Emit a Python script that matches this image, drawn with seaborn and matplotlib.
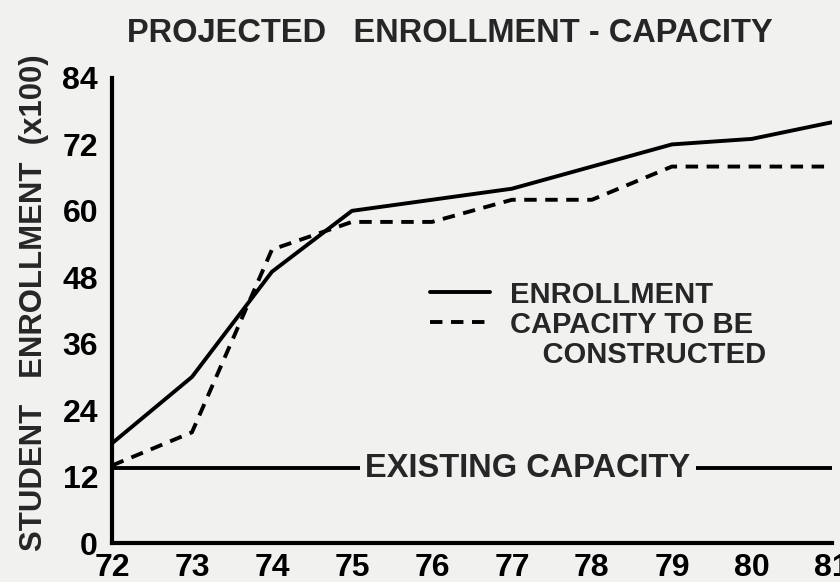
import matplotlib
matplotlib.use("Agg")
import matplotlib.pyplot as plt
from matplotlib.lines import Line2D
import seaborn as sns
import pandas as pd

# values (enrollment in hundreds)
years = [72, 73, 74, 75, 76, 77, 78, 79, 80, 81]
enrollment = [18, 30, 49, 60, 62, 64, 68, 72, 73, 76]
capacity_built = [14, 20, 53, 58, 58, 62, 62, 68, 68, 68]
existing_capacity = [13.5] * len(years)
y_ticks = [0, 12, 24, 36, 48, 60, 72, 84]

bg = "#f1f1ef"
sns.set_theme(style="white", rc={"axes.facecolor": bg, "figure.facecolor": bg})
plt.rcParams["font.family"] = ["Liberation Sans", "DejaVu Sans"]
plt.rcParams["font.weight"] = "bold"

df = pd.DataFrame({
    "Year": years * 3,
    "Value": enrollment + capacity_built + existing_capacity,
    "Series": ["ENROLLMENT"] * len(years) + ["CAPACITY TO BE"] * len(years)
              + ["EXISTING"] * len(years),
})

fig = plt.figure(figsize=(8.4, 5.82), dpi=100)
ax = fig.add_axes([0.1333, 0.067, 0.857, 0.799])

sns.lineplot(data=df, x="Year", y="Value", hue="Series", style="Series",
             hue_order=["ENROLLMENT", "CAPACITY TO BE", "EXISTING"],
             palette=["black", "black", "black"],
             dashes={"ENROLLMENT": "", "CAPACITY TO BE": (3.2, 2.2), "EXISTING": ""},
             linewidth=2.8, ax=ax, legend=True)

ax.text(77.2, 13.5, "EXISTING CAPACITY", ha="center", va="center", fontsize=23.5,
        fontweight="bold", bbox=dict(facecolor=bg, edgecolor="none", pad=4))

# legend: the second label wraps onto a line that has no handle
handles, labels = ax.get_legend_handles_labels()
blank = Line2D([], [], linestyle="none")
leg = ax.legend(handles[:2] + [blank], labels[:2] + ["    CONSTRUCTED"], loc="upper left",
                bbox_to_anchor=(0.512, 0.518), bbox_transform=fig.transFigure,
                frameon=False, fontsize=21, handlelength=2.05, handletextpad=0.7,
                labelspacing=0.07, borderpad=0, borderaxespad=0)

ax.set_xlim(72, 81)
ax.set_ylim(0, 84)
ax.set_xticks(years)
ax.set_yticks(y_ticks)
ax.tick_params(axis="both", labelsize=23, length=5, width=2.5, color="black",
               labelcolor="black", direction="out")
ax.tick_params(axis="y", pad=5)
ax.tick_params(axis="x", pad=2)
for side in ["top", "right"]:
    ax.spines[side].set_visible(False)
for side in ["left", "bottom"]:
    ax.spines[side].set_color("black")
    ax.spines[side].set_linewidth(3)

ax.set_xlabel("")
ax.set_ylabel("STUDENT   ENROLLMENT  (x100)", fontsize=22.4, fontweight="bold", va="center")
ax.yaxis.set_label_coords(-0.109, 0.516)
fig.text(0.535, 0.943, "PROJECTED   ENROLLMENT - CAPACITY", ha="center", va="center",
         fontsize=23.5, fontweight="bold")

plt.savefig("out.png", dpi=100)
